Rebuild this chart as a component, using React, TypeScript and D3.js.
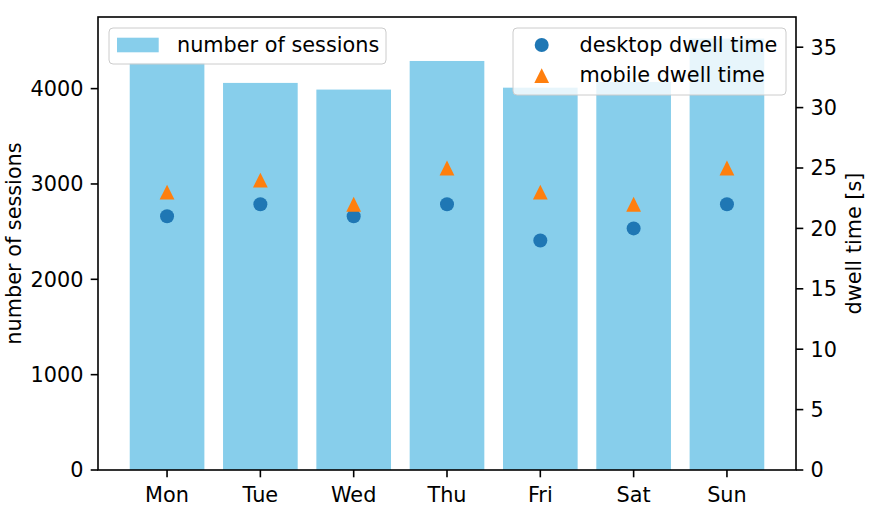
import React from "react";
import * as d3 from "d3";

const days = ["Mon", "Tue", "Wed", "Thu", "Fri", "Sat", "Sun"];
const sessions = [4270, 4060, 3990, 4290, 4010, 4070, 4525];
const desktopDwell = [21, 22, 21, 22, 19, 20, 22];
const mobileDwell = [23, 24, 22, 25, 23, 22, 25];
const leftTicks = [0, 1000, 2000, 3000, 4000];
const rightTicks = [0, 5, 10, 15, 20, 25, 30, 35];

const W = 870;
const H = 523;
const L = 98;
const R = 796;
const T = 17;
const B = 470;
const FS = 20.8;
const FONT = "DejaVu Sans, sans-serif";
const BAR = "#87ceeb";
const BLUE = "#1f77b4";
const ORANGE = "#ff7f0e";

export default function App() {
  const x = d3.scaleLinear().domain([-0.74, 6.74]).range([L, R]);
  const yL = d3.scaleLinear().domain([0, (d3.max(sessions) as number) * 1.05]).range([B, T]);
  const yR = d3.scaleLinear().domain([0, 37.5]).range([B, T]);
  const bw = x(0.4) - x(-0.4);
  const tri = (cx: number, cy: number, s: number) =>
    `M${cx},${cy - s}L${cx + s},${cy + s}L${cx - s},${cy + s}Z`;
  const tickLen = 7.3;

  return (
    <svg width={W} height={H} style={{ position: "absolute", left: 0, top: 0, background: "#fff" }} fontFamily={FONT}>
      <rect x={0} y={0} width={W} height={H} fill="#fff" />
      {sessions.map((v, i) => (
        <rect key={"b" + i} x={x(i) - bw / 2} y={yL(v)} width={bw} height={B - yL(v)} fill={BAR} />
      ))}
      {/* left legend */}
      <rect x={109} y={28} width={277} height={36} rx={4} fill="#fff" fillOpacity={0.8} stroke="#cccccc" strokeWidth={1} />
      <rect x={117} y={37.7} width={41.7} height={14.6} fill={BAR} />
      <text x={177} y={51.5} fontSize={FS} fill="#000">number of sessions</text>
      {/* points */}
      {desktopDwell.map((v, i) => (
        <circle key={"d" + i} cx={x(i)} cy={yR(v)} r={7} fill={BLUE} />
      ))}
      {mobileDwell.map((v, i) => (
        <path key={"m" + i} d={tri(x(i), yR(v), 7.4)} fill={ORANGE} />
      ))}
      {/* right legend */}
      <rect x={513} y={28} width={273} height={67} rx={4} fill="#fff" fillOpacity={0.8} stroke="#cccccc" strokeWidth={1} />
      <circle cx={541.7} cy={45} r={7} fill={BLUE} />
      <path d={tri(541.7, 75.7, 7.4)} fill={ORANGE} />
      <text x={579.5} y={51.5} fontSize={FS} fill="#000">desktop dwell time</text>
      <text x={579.5} y={82} fontSize={FS} fill="#000">mobile dwell time</text>
      {/* frame */}
      <rect x={L} y={T} width={R - L} height={B - T} fill="none" stroke="#000" strokeWidth={1.6} />
      {/* left axis */}
      {leftTicks.map((t) => (
        <g key={"lt" + t}>
          <line x1={L - tickLen} x2={L} y1={yL(t)} y2={yL(t)} stroke="#000" strokeWidth={1.6} />
          <text x={L - tickLen - 7.3} y={yL(t)} dy="0.36em" textAnchor="end" fontSize={FS}>{t}</text>
        </g>
      ))}
      {/* right axis */}
      {rightTicks.map((t) => (
        <g key={"rt" + t}>
          <line x1={R} x2={R + tickLen} y1={yR(t)} y2={yR(t)} stroke="#000" strokeWidth={1.6} />
          <text x={R + tickLen + 7.3} y={yR(t)} dy="0.36em" textAnchor="start" fontSize={FS}>{t}</text>
        </g>
      ))}
      {/* x axis */}
      {days.map((d, i) => (
        <g key={"xt" + d}>
          <line x1={x(i)} x2={x(i)} y1={B} y2={B + tickLen} stroke="#000" strokeWidth={1.6} />
          <text x={x(i)} y={502} textAnchor="middle" fontSize={FS}>{d}</text>
        </g>
      ))}
      <text transform={`translate(21,${(T + B) / 2}) rotate(-90)`} textAnchor="middle" fontSize={FS}>number of sessions</text>
      <text transform={`translate(861,${(T + B) / 2}) rotate(-90)`} textAnchor="middle" fontSize={FS}>dwell time [s]</text>
    </svg>
  );
}
